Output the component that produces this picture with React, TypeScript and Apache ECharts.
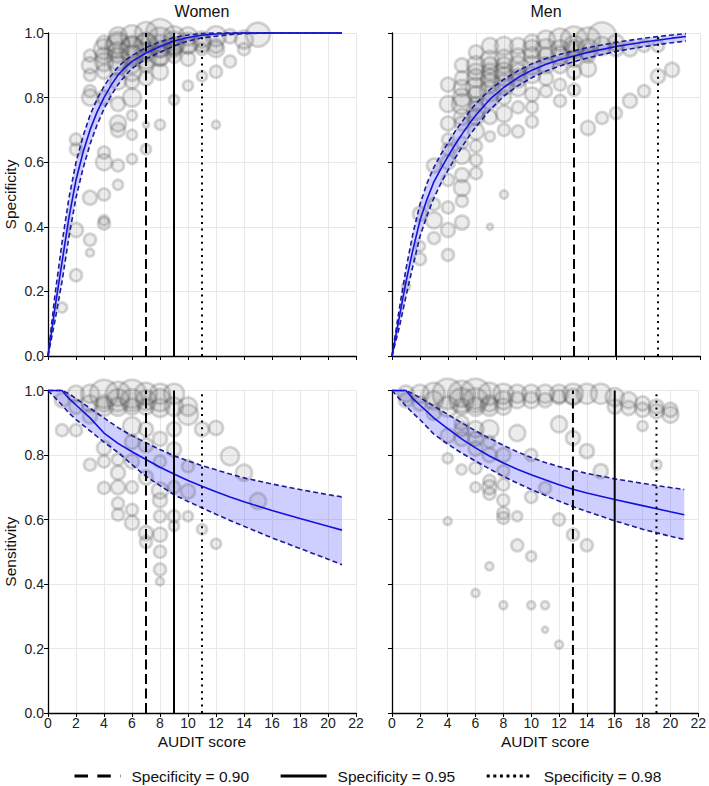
import React, { useEffect, useRef } from "react";
import * as echarts from "echarts";

const FONT = '"Liberation Sans", Arial, Helvetica, sans-serif';

// ---- curve x positions ----
const specX = [0, 0.5, 1, 1.5, 2, 2.5, 3, 3.5, 4, 4.5, 5, 5.5, 6, 7, 8, 9, 10, 11, 12, 13, 14, 16, 18, 20, 21];
const sensX = [0, 1, 1.5, 2, 3, 4, 5, 6, 7, 8, 9, 10, 11, 12, 13, 14, 16, 18, 20, 21];

// ---- Women specificity ----
const womenSpecFit = [0, 0.15, 0.29, 0.43, 0.545, 0.63, 0.7, 0.755, 0.8, 0.838, 0.87, 0.893, 0.912, 0.938, 0.958, 0.975, 0.986, 0.993, 0.997, 0.999, 1, 1, 1, 1, 1];
const womenSpecHi = [0, 0.19, 0.35, 0.49, 0.6, 0.68, 0.745, 0.795, 0.835, 0.868, 0.895, 0.915, 0.93, 0.955, 0.973, 0.986, 0.994, 0.998, 1, 1, 1, 1, 1, 1, 1];
const womenSpecLo = [0, 0.11, 0.23, 0.37, 0.49, 0.58, 0.655, 0.715, 0.765, 0.806, 0.84, 0.867, 0.89, 0.92, 0.94, 0.96, 0.975, 0.985, 0.99, 0.995, 0.998, 1, 1, 1, 1];

// ---- Men specificity ----
const menSpecFit = [0, 0.115, 0.23, 0.33, 0.42, 0.485, 0.54, 0.58, 0.618, 0.654, 0.687, 0.718, 0.746, 0.795, 0.832, 0.862, 0.885, 0.903, 0.917, 0.929, 0.94, 0.958, 0.972, 0.984, 0.989];
const menSpecHi = [0, 0.14, 0.27, 0.38, 0.47, 0.535, 0.585, 0.625, 0.66, 0.695, 0.725, 0.755, 0.782, 0.825, 0.857, 0.883, 0.905, 0.921, 0.934, 0.945, 0.955, 0.971, 0.984, 0.994, 0.998];
const menSpecLo = [0, 0.085, 0.185, 0.28, 0.37, 0.435, 0.49, 0.535, 0.575, 0.612, 0.647, 0.68, 0.71, 0.762, 0.805, 0.837, 0.862, 0.882, 0.898, 0.911, 0.923, 0.943, 0.958, 0.97, 0.975];

// ---- Women sensitivity ----
const womenSensFit = [1, 1, 0.975, 0.955, 0.915, 0.868, 0.836, 0.81, 0.786, 0.762, 0.741, 0.721, 0.703, 0.686, 0.67, 0.655, 0.628, 0.603, 0.579, 0.567];
const womenSensHi = [1, 1, 0.99, 0.975, 0.945, 0.915, 0.885, 0.86, 0.838, 0.817, 0.798, 0.782, 0.767, 0.754, 0.741, 0.729, 0.71, 0.693, 0.677, 0.67];
const womenSensLo = [1, 0.955, 0.93, 0.91, 0.875, 0.84, 0.808, 0.77, 0.734, 0.705, 0.677, 0.656, 0.636, 0.616, 0.597, 0.579, 0.543, 0.51, 0.477, 0.46];

// ---- Men sensitivity ----
const menSensFit = [1, 1, 0.975, 0.955, 0.915, 0.882, 0.85, 0.822, 0.797, 0.775, 0.756, 0.739, 0.723, 0.708, 0.694, 0.682, 0.662, 0.643, 0.624, 0.615];
const menSensHi = [1, 1, 0.99, 0.978, 0.952, 0.926, 0.9, 0.875, 0.852, 0.83, 0.81, 0.792, 0.777, 0.764, 0.753, 0.743, 0.726, 0.712, 0.699, 0.693];
const menSensLo = [1, 0.952, 0.93, 0.91, 0.865, 0.834, 0.806, 0.781, 0.757, 0.734, 0.713, 0.693, 0.675, 0.657, 0.64, 0.625, 0.596, 0.57, 0.548, 0.538];

// ---- cut-offs (AUDIT score) ----
const cutNames = ["Specificity = 0.90", "Specificity = 0.95", "Specificity = 0.98"];
const womenCuts = [7, 9, 11];
const menCuts = [13, 16, 19];

// ---- study points: [AUDIT score, value, bubble diameter] ----
const womenSpecPts = [
  [1, 0.15, 10],
  [2, 0.25, 12], [2, 0.39, 14], [2, 0.64, 12], [2, 0.67, 12],
  [3, 0.32, 8], [3, 0.36, 12], [3, 0.49, 14], [3, 0.8, 16], [3, 0.82, 12], [3, 0.87, 12], [3, 0.9, 16], [3, 0.93, 12],
  [4, 0.41, 12], [4, 0.42, 10], [4, 0.5, 12], [4, 0.6, 16], [4, 0.63, 12], [4, 0.8, 14], [4, 0.88, 14], [4, 0.91, 18], [4, 0.93, 16], [4, 0.95, 20], [4, 0.97, 14],
  [5, 0.53, 10], [5, 0.59, 12], [5, 0.7, 14], [5, 0.72, 16], [5, 0.78, 14], [5, 0.85, 16], [5, 0.9, 18], [5, 0.92, 22], [5, 0.94, 20], [5, 0.96, 24], [5, 0.97, 22], [5, 0.99, 18],
  [6, 0.61, 10], [6, 0.685, 10], [6, 0.745, 10], [6, 0.8, 18], [6, 0.85, 14], [6, 0.88, 18], [6, 0.9, 16], [6, 0.93, 20], [6, 0.95, 24], [6, 0.96, 20], [6, 0.99, 22],
  [7, 0.64, 10], [7, 0.716, 6], [7, 0.86, 14], [7, 0.9, 14], [7, 0.92, 20], [7, 0.94, 18], [7, 0.96, 24], [7, 0.97, 20], [7, 1.0, 22],
  [8, 0.716, 10], [8, 0.88, 16], [8, 0.92, 14], [8, 0.93, 20], [8, 0.95, 16], [8, 0.96, 22], [8, 0.98, 24], [8, 1.0, 28],
  [9, 0.793, 10], [9, 0.93, 14], [9, 0.95, 16], [9, 0.96, 18], [9, 0.97, 22], [9, 0.99, 20],
  [10, 0.837, 10], [10, 0.92, 14], [10, 0.96, 16], [10, 0.97, 20], [10, 0.99, 18],
  [11, 0.866, 10], [11, 0.95, 12], [11, 0.97, 18], [11, 0.98, 16],
  [12, 0.716, 8], [12, 0.88, 12], [12, 0.95, 16], [12, 0.96, 14], [12, 0.99, 20],
  [13, 0.912, 12], [13, 0.99, 14],
  [14, 0.95, 12], [14, 0.98, 18],
  [15, 0.995, 24],
];

const menSpecPts = [
  [1, 0.215, 8],
  [2, 0.3, 12], [2, 0.34, 10], [2, 0.44, 14],
  [3, 0.365, 12], [3, 0.42, 16], [3, 0.47, 12], [3, 0.59, 14],
  [4, 0.313, 12], [4, 0.39, 14], [4, 0.46, 12], [4, 0.545, 12], [4, 0.6, 14], [4, 0.64, 12], [4, 0.67, 12], [4, 0.72, 14], [4, 0.78, 16], [4, 0.84, 14],
  [5, 0.413, 14], [5, 0.48, 12], [5, 0.52, 16], [5, 0.56, 14], [5, 0.62, 16], [5, 0.66, 12], [5, 0.72, 14], [5, 0.74, 16], [5, 0.78, 20], [5, 0.8, 18], [5, 0.83, 16], [5, 0.86, 14], [5, 0.9, 14],
  [6, 0.566, 12], [6, 0.607, 12], [6, 0.65, 12], [6, 0.695, 16], [6, 0.74, 16], [6, 0.76, 18], [6, 0.78, 14], [6, 0.81, 16], [6, 0.83, 20], [6, 0.86, 18], [6, 0.88, 16], [6, 0.9, 18], [6, 0.94, 14],
  [7, 0.4, 6], [7, 0.68, 10], [7, 0.74, 14], [7, 0.79, 16], [7, 0.82, 20], [7, 0.845, 18], [7, 0.86, 18], [7, 0.88, 16], [7, 0.9, 16], [7, 0.917, 18], [7, 0.96, 16],
  [8, 0.5, 8], [8, 0.7, 12], [8, 0.75, 16], [8, 0.8, 14], [8, 0.84, 20], [8, 0.865, 18], [8, 0.88, 18], [8, 0.9, 16], [8, 0.92, 18], [8, 0.96, 18],
  [9, 0.695, 12], [9, 0.77, 12], [9, 0.83, 16], [9, 0.86, 18], [9, 0.88, 16], [9, 0.9, 18], [9, 0.93, 14], [9, 0.96, 16],
  [10, 0.726, 12], [10, 0.77, 12], [10, 0.81, 14], [10, 0.87, 16], [10, 0.9, 18], [10, 0.93, 16], [10, 0.95, 18], [10, 0.97, 16],
  [11, 0.82, 12], [11, 0.86, 14], [11, 0.9, 16], [11, 0.93, 16], [11, 0.95, 20], [11, 0.98, 18],
  [12, 0.79, 12], [12, 0.84, 12], [12, 0.897, 14], [12, 0.93, 18], [12, 0.95, 18], [12, 0.98, 22],
  [13, 0.824, 12], [13, 0.88, 14], [13, 0.92, 16], [13, 0.95, 18], [13, 0.96, 20], [13, 0.98, 26],
  [14, 0.706, 14], [14, 0.89, 16], [14, 0.93, 14], [14, 0.95, 20], [14, 0.98, 24],
  [15, 0.737, 12], [15, 0.96, 18], [15, 0.99, 28],
  [16, 0.752, 12], [16, 0.95, 14], [16, 0.97, 16],
  [17, 0.79, 14], [17, 0.95, 14],
  [18, 0.82, 12], [18, 0.96, 12],
  [19, 0.866, 14], [19, 0.96, 12],
  [20, 0.886, 14],
];

const womenSensPts = [
  [1, 0.877, 12], [1, 0.97, 14],
  [2, 0.877, 12], [2, 0.95, 14], [2, 0.99, 16],
  [3, 0.77, 12], [3, 0.92, 14], [3, 0.96, 16], [3, 0.99, 18],
  [4, 0.698, 12], [4, 0.78, 12], [4, 0.822, 14], [4, 0.95, 18], [4, 0.96, 16], [4, 0.99, 28],
  [5, 0.615, 12], [5, 0.65, 12], [5, 0.7, 14], [5, 0.745, 14], [5, 0.786, 12], [5, 0.95, 18], [5, 0.97, 22], [5, 0.99, 24],
  [6, 0.59, 14], [6, 0.63, 12], [6, 0.7, 12], [6, 0.78, 14], [6, 0.84, 14], [6, 0.889, 18], [6, 0.95, 16], [6, 0.97, 22], [6, 0.99, 28],
  [7, 0.53, 12], [7, 0.558, 14], [7, 0.73, 14], [7, 0.83, 14], [7, 0.88, 14], [7, 0.95, 16], [7, 0.97, 20], [7, 0.99, 22],
  [8, 0.408, 8], [8, 0.445, 12], [8, 0.5, 12], [8, 0.553, 14], [8, 0.61, 12], [8, 0.66, 14], [8, 0.69, 16], [8, 0.78, 12], [8, 0.85, 14], [8, 0.946, 18], [8, 0.97, 22], [8, 0.99, 20],
  [9, 0.58, 10], [9, 0.61, 12], [9, 0.7, 12], [9, 0.817, 14], [9, 0.88, 14], [9, 0.95, 18], [9, 0.99, 20],
  [10, 0.61, 10], [10, 0.687, 14], [10, 0.765, 12], [10, 0.925, 20], [10, 0.95, 18],
  [11, 0.57, 10], [11, 0.88, 14],
  [12, 0.525, 10], [12, 0.884, 14],
  [13, 0.796, 18],
  [14, 0.745, 16],
  [15, 0.657, 16],
];

const menSensPts = [
  [1, 0.97, 14], [1, 0.99, 16],
  [2, 0.96, 14], [2, 0.99, 18],
  [3, 0.93, 14], [3, 0.97, 18], [3, 0.99, 22],
  [4, 0.595, 8], [4, 0.79, 10], [4, 0.86, 14], [4, 0.95, 20], [4, 0.99, 30],
  [5, 0.755, 10], [5, 0.85, 14], [5, 0.88, 14], [5, 0.9, 14], [5, 0.95, 16], [5, 0.97, 24], [5, 0.99, 26],
  [6, 0.372, 8], [6, 0.7, 10], [6, 0.76, 12], [6, 0.82, 14], [6, 0.85, 14], [6, 0.88, 16], [6, 0.95, 18], [6, 0.97, 24], [6, 0.99, 30],
  [7, 0.455, 8], [7, 0.68, 12], [7, 0.7, 14], [7, 0.72, 12], [7, 0.8, 14], [7, 0.84, 12], [7, 0.88, 18], [7, 0.95, 18], [7, 0.96, 16], [7, 0.99, 22],
  [8, 0.334, 8], [8, 0.605, 12], [8, 0.62, 12], [8, 0.66, 12], [8, 0.708, 12], [8, 0.75, 12], [8, 0.8, 14], [8, 0.95, 16], [8, 0.97, 18], [8, 0.99, 20],
  [9, 0.52, 12], [9, 0.61, 10], [9, 0.868, 16], [9, 0.97, 16], [9, 0.99, 18],
  [10, 0.334, 8], [10, 0.486, 10], [10, 0.67, 12], [10, 0.8, 12], [10, 0.97, 16], [10, 0.99, 18],
  [11, 0.258, 6], [11, 0.334, 8], [11, 0.698, 12], [11, 0.97, 14], [11, 0.99, 18],
  [12, 0.212, 8], [12, 0.6, 12], [12, 0.895, 16], [12, 0.98, 14], [12, 0.99, 18],
  [13, 0.553, 12], [13, 0.853, 14], [13, 0.98, 16], [13, 0.99, 20],
  [14, 0.52, 12], [14, 0.812, 14], [14, 0.99, 20],
  [15, 0.75, 14], [15, 0.99, 20],
  [16, 0.95, 14], [16, 0.98, 18],
  [17, 0.946, 14], [17, 0.97, 16],
  [18, 0.89, 10], [18, 0.94, 14], [18, 0.96, 14],
  [19, 0.77, 10], [19, 0.936, 14], [19, 0.95, 14],
  [20, 0.925, 16], [20, 0.94, 14],
];

const GRIDS = [
  { left: 48, top: 33, width: 308, height: 323 },
  { left: 392, top: 33, width: 308, height: 323 },
  { left: 48, top: 390.5, width: 308, height: 322.5 },
  { left: 392, top: 390.5, width: 308, height: 322.5 },
];

const BLUE = "#1212dc";
const BLUE_DASH = "#1c1c96";
const BAND_FILL = "rgba(70,70,255,0.26)";
const CUT_STYLES: any[] = [
  { type: [10, 4.5], width: 2 },
  { type: "solid", width: 2 },
  { type: [2, 4.6], width: 2 },
];

function panelSeries(i: number, pts: number[][], xs: number[], fit: number[], lo: number[], hi: number[], cuts: number[]) {
  const s: any[] = [];
  s.push({
    type: "scatter",
    xAxisIndex: i,
    yAxisIndex: i,
    data: pts,
    symbolSize: (v: number[]) => v[2],
    itemStyle: { color: "rgba(100,100,100,0.15)", borderColor: "rgba(70,70,70,0.27)", borderWidth: 2.8 },
    silent: true,
  });
  // confidence band polygon (upper edge forward, lower edge back)
  s.push({
    type: "custom",
    xAxisIndex: i,
    yAxisIndex: i,
    data: xs.map((x, k) => [x, lo[k], hi[k]]),
    encode: { x: 0, y: [1, 2] },
    silent: true,
    renderItem: (params: any, api: any) => {
      if (params.dataIndex !== 0) return null;
      const points: number[][] = [];
      for (let k = 0; k < xs.length; k++) points.push(api.coord([xs[k], hi[k]]));
      for (let k = xs.length - 1; k >= 0; k--) points.push(api.coord([xs[k], lo[k]]));
      return { type: "polygon", shape: { points }, style: { fill: BAND_FILL, stroke: null } };
    },
  });
  [lo, hi].forEach((arr) => {
    s.push({
      type: "line",
      xAxisIndex: i,
      yAxisIndex: i,
      data: xs.map((x, k) => [x, arr[k]]),
      symbol: "none",
      clip: false,
      lineStyle: { color: BLUE_DASH, width: 1.6, type: [5, 3] },
      silent: true,
    });
  });
  s.push({
    type: "line",
    xAxisIndex: i,
    yAxisIndex: i,
    data: xs.map((x, k) => [x, fit[k]]),
    symbol: "none",
    clip: false,
    lineStyle: { color: BLUE, width: 1.6 },
    silent: true,
  });
  cuts.forEach((c, k) => {
    s.push({
      type: "line",
      name: cutNames[k],
      xAxisIndex: i,
      yAxisIndex: i,
      data: [[c, 0], [c, 1]],
      symbol: "none",
      clip: false,
      itemStyle: { color: "#000" },
      lineStyle: { color: "#000", width: CUT_STYLES[k].width, type: CUT_STYLES[k].type },
      silent: true,
    });
  });
  return s;
}

export default function App() {
  const ref = useRef<HTMLDivElement>(null);
  useEffect(() => {
    document.body.style.margin = "0";
    if (!ref.current) return;
    const chart = echarts.init(ref.current, undefined, { renderer: "svg" });
    const axisText = { fontSize: 14, color: "#222", fontFamily: FONT };
    const hiddenSymbol = { color: "rgba(0,0,0,0)", borderColor: "rgba(0,0,0,0)", borderWidth: 0, opacity: 0 };
    const option: any = {
      animation: false,
      backgroundColor: "#fff",
      grid: GRIDS.map((g) => ({ ...g, containLabel: false })),
      xAxis: GRIDS.map((_, i) => ({
        type: "value",
        gridIndex: i,
        min: 0,
        max: 22,
        interval: 2,
        axisLine: { show: true, onZero: false, lineStyle: { color: "#000", width: 1.3 } },
        axisTick: { show: true, length: 4, lineStyle: { color: "#000", width: 1 } },
        axisLabel: { show: i >= 2, margin: 3, ...axisText },
        splitLine: { show: true, lineStyle: { color: "#e8e8e8", width: 1 } },
        name: i >= 2 ? "AUDIT score" : "",
        nameLocation: "middle",
        nameGap: 20,
        nameTextStyle: { fontSize: 15.5, color: "#111", fontFamily: FONT },
      })),
      yAxis: GRIDS.map((_, i) => ({
        type: "value",
        gridIndex: i,
        min: 0,
        max: 1,
        interval: 0.2,
        axisLine: { show: true, onZero: false, lineStyle: { color: "#000", width: 1.3 } },
        axisTick: { show: true, length: 4, lineStyle: { color: "#000", width: 1 } },
        axisLabel: { show: i === 0 || i === 2, margin: 4, formatter: (v: number) => v.toFixed(1), ...axisText },
        splitLine: { show: true, lineStyle: { color: "#e8e8e8", width: 1 } },
        name: i === 0 ? "Specificity" : i === 2 ? "Sensitivity" : "",
        nameLocation: "middle",
        nameGap: 30,
        nameTextStyle: { fontSize: 15.5, color: "#111", fontFamily: FONT },
      })),
      legend: {
        left: 73,
        top: 768,
        padding: 0,
        itemWidth: 46,
        itemHeight: 14,
        itemGap: 30,
        selectedMode: false,
        textStyle: { fontSize: 15.5, color: "#111", fontFamily: FONT, padding: [0, 0, 0, 6] },
        data: [
          { name: cutNames[0], itemStyle: hiddenSymbol, lineStyle: { width: 3, color: "#000", type: [13.5, 9.3] } },
          { name: cutNames[1], itemStyle: hiddenSymbol, lineStyle: { width: 3, color: "#000", type: "solid" } },
          { name: cutNames[2], itemStyle: hiddenSymbol, lineStyle: { width: 3, color: "#000", type: [3, 3.6] } },
        ],
      },
      graphic: [
        { type: "text", x: 202, y: 11, style: { text: "Women", fontSize: 16, fontFamily: FONT, fill: "#111", align: "center", verticalAlign: "middle" } },
        { type: "text", x: 546, y: 11, style: { text: "Men", fontSize: 16, fontFamily: FONT, fill: "#111", align: "center", verticalAlign: "middle" } },
      ],
      series: [
        ...panelSeries(0, womenSpecPts, specX, womenSpecFit, womenSpecLo, womenSpecHi, womenCuts),
        ...panelSeries(1, menSpecPts, specX, menSpecFit, menSpecLo, menSpecHi, menCuts),
        ...panelSeries(2, womenSensPts, sensX, womenSensFit, womenSensLo, womenSensHi, womenCuts),
        ...panelSeries(3, menSensPts, sensX, menSensFit, menSensLo, menSensHi, menCuts),
      ],
    };
    chart.setOption(option);
    return () => chart.dispose();
  }, []);
  return <div ref={ref} style={{ width: 709, height: 786 }} />;
}
